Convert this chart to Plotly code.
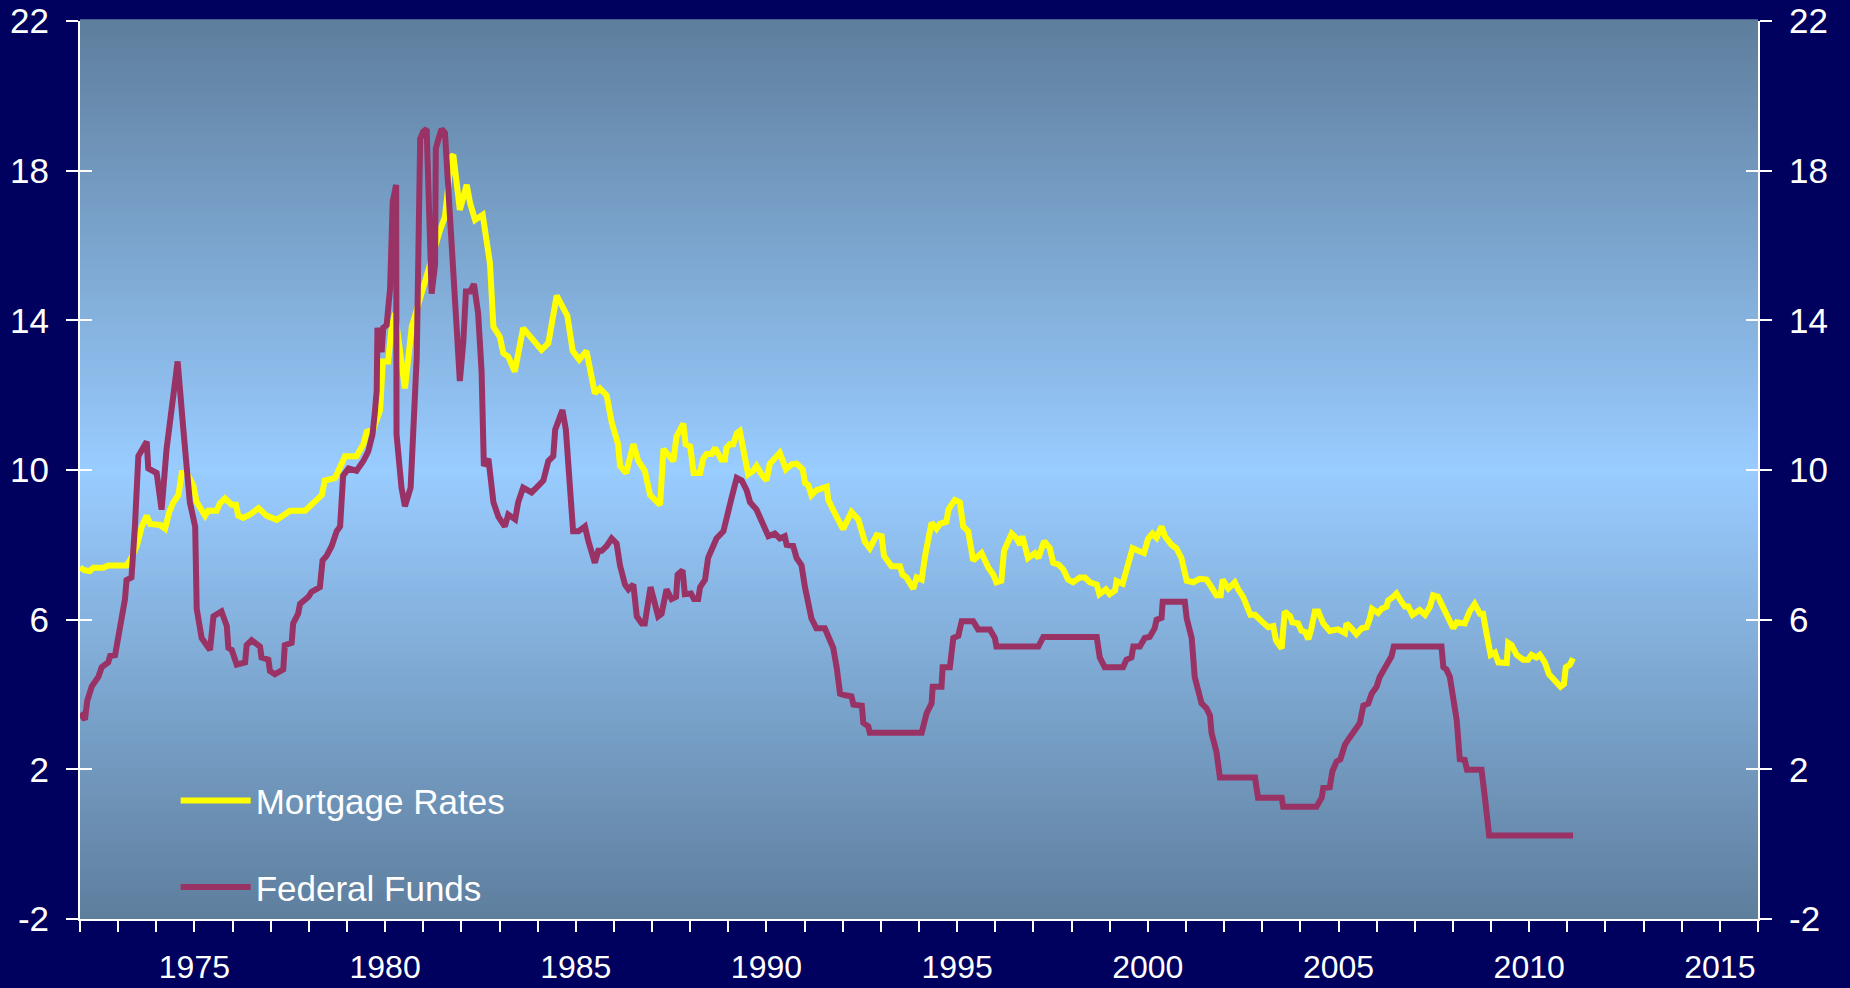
import plotly.graph_objects as go

# ---- data ----
mort_year = [1972.00, 1972.13, 1972.26, 1972.35, 1972.61, 1972.74, 1973.22, 1973.31, 1973.49, 1973.62,
             1973.75, 1973.84, 1974.10, 1974.23, 1974.34, 1974.45, 1974.58, 1974.67, 1974.80, 1974.97,
             1975.06, 1975.28, 1975.36, 1975.58, 1975.67, 1975.80, 1975.98, 1976.09, 1976.15, 1976.28,
             1976.46, 1976.68, 1976.89, 1977.16, 1977.51, 1977.90, 1978.34, 1978.42, 1978.69, 1978.82,
             1978.95, 1979.25, 1979.43, 1979.52, 1979.69, 1979.87, 1979.94, 1980.08, 1980.17, 1980.26,
             1980.52, 1980.70, 1981.00, 1981.22, 1981.44, 1981.57, 1981.74, 1981.79, 1981.96, 1982.14,
             1982.23, 1982.36, 1982.56, 1982.75, 1982.84, 1983.01, 1983.10, 1983.23, 1983.40, 1983.62,
             1983.89, 1984.10, 1984.28, 1984.37, 1984.50, 1984.78, 1984.92, 1985.09, 1985.28, 1985.50,
             1985.63, 1985.81, 1985.94, 1986.11, 1986.16, 1986.32, 1986.51, 1986.64, 1986.81, 1986.95,
             1987.21, 1987.30, 1987.43, 1987.56, 1987.64, 1987.82, 1987.88, 1988.00, 1988.09, 1988.26,
             1988.34, 1988.43, 1988.56, 1988.65, 1988.82, 1988.91, 1988.95, 1989.04, 1989.13, 1989.22,
             1989.30, 1989.44, 1989.52, 1989.65, 1989.74, 1989.87, 1990.00, 1990.09, 1990.22, 1990.35,
             1990.51, 1990.66, 1990.79, 1990.95, 1991.01, 1991.10, 1991.18, 1991.31, 1991.58, 1991.62,
             1991.84, 1992.01, 1992.23, 1992.41, 1992.58, 1992.71, 1992.89, 1993.02, 1993.08, 1993.28,
             1993.50, 1993.57, 1993.67, 1993.76, 1993.85, 1993.94, 1994.07, 1994.16, 1994.33, 1994.46,
             1994.55, 1994.72, 1994.77, 1994.94, 1995.07, 1995.16, 1995.29, 1995.42, 1995.64, 1995.82,
             1995.95, 1996.03, 1996.16, 1996.23, 1996.30, 1996.43, 1996.56, 1996.65, 1996.71, 1996.86,
             1997.04, 1997.13, 1997.28, 1997.43, 1997.52, 1997.65, 1997.78, 1997.91, 1998.04, 1998.22,
             1998.35, 1998.48, 1998.66, 1998.73, 1998.90, 1999.00, 1999.14, 1999.18, 1999.34, 1999.44,
             1999.53, 1999.60, 1999.75, 1999.90, 2000.01, 2000.12, 2000.23, 2000.36, 2000.45, 2000.62,
             2000.75, 2000.88, 2001.02, 2001.19, 2001.36, 2001.54, 2001.67, 2001.80, 2001.91, 2001.96,
             2002.11, 2002.28, 2002.37, 2002.50, 2002.69, 2002.81, 2002.98, 2003.16, 2003.29, 2003.36,
             2003.51, 2003.59, 2003.73, 2003.79, 2003.94, 2004.03, 2004.12, 2004.21, 2004.29, 2004.38,
             2004.47, 2004.60, 2004.77, 2004.99, 2005.17, 2005.21, 2005.34, 2005.47, 2005.61, 2005.74,
             2005.82, 2005.88, 2006.04, 2006.13, 2006.26, 2006.30, 2006.43, 2006.52, 2006.65, 2006.74,
             2006.83, 2006.94, 2007.13, 2007.27, 2007.40, 2007.48, 2007.61, 2007.70, 2007.83, 2007.92,
             2008.01, 2008.10, 2008.23, 2008.31, 2008.44, 2008.57, 2008.71, 2008.79, 2008.88, 2008.99,
             2009.10, 2009.19, 2009.41, 2009.45, 2009.54, 2009.62, 2009.67, 2009.84, 2009.97, 2010.06,
             2010.19, 2010.28, 2010.41, 2010.52, 2010.67, 2010.82, 2010.91, 2010.96, 2011.07, 2011.15]
mort_rate = [7.39, 7.32, 7.30, 7.39, 7.39, 7.45, 7.45, 7.58, 7.97, 8.49,
             8.78, 8.56, 8.53, 8.43, 8.88, 9.14, 9.33, 9.92, 9.92, 9.59,
             9.14, 8.78, 8.91, 8.91, 9.11, 9.24, 9.07, 9.07, 8.78, 8.72,
             8.81, 8.98, 8.78, 8.67, 8.91, 8.91, 9.33, 9.72, 9.79, 10.11,
             10.37, 10.37, 10.69, 11.02, 11.08, 11.60, 12.90, 12.90, 13.80, 14.19,
             12.18, 13.83, 14.90, 15.61, 16.41, 16.77, 18.37, 18.42, 16.95, 17.62,
             17.13, 16.68, 16.82, 15.52, 13.83, 13.56, 13.12, 13.03, 12.63, 13.79,
             13.43, 13.21, 13.39, 13.87, 14.66, 14.12, 13.18, 12.95, 13.18, 12.05,
             12.18, 11.99, 11.28, 10.69, 10.11, 9.92, 10.69, 10.24, 9.98, 9.33,
             9.07, 10.56, 10.37, 10.24, 10.89, 11.24, 10.69, 10.63, 9.92, 9.92,
             10.30, 10.43, 10.43, 10.59, 10.28, 10.28, 10.59, 10.69, 10.69, 10.98,
             11.04, 10.37, 9.89, 9.98, 10.11, 9.89, 9.72, 10.17, 10.30, 10.46,
             10.02, 10.15, 10.17, 10.02, 9.66, 9.59, 9.33, 9.46, 9.55, 9.20,
             8.75, 8.42, 8.88, 8.68, 8.08, 7.91, 8.26, 8.23, 7.71, 7.43,
             7.43, 7.20, 7.13, 6.94, 6.83, 7.13, 7.07, 7.71, 8.59, 8.43,
             8.56, 8.62, 8.94, 9.20, 9.14, 8.49, 8.36, 7.58, 7.78, 7.39,
             7.20, 7.00, 7.04, 7.84, 8.00, 8.30, 8.17, 8.00, 8.23, 7.65,
             7.78, 7.65, 8.10, 7.91, 7.52, 7.48, 7.35, 7.07, 7.00, 7.13,
             7.13, 7.00, 6.94, 6.68, 6.81, 6.68, 6.78, 7.03, 6.96, 7.32,
             7.58, 7.91, 7.84, 7.78, 8.17, 8.30, 8.19, 8.49, 8.23, 8.00,
             7.91, 7.65, 7.04, 7.00, 7.09, 7.07, 6.87, 6.65, 6.65, 7.07,
             6.83, 7.00, 6.81, 6.61, 6.13, 6.13, 5.96, 5.80, 5.83, 5.45,
             5.23, 6.22, 6.09, 5.93, 5.90, 5.70, 5.67, 5.48, 5.77, 6.22,
             6.22, 5.90, 5.70, 5.74, 5.64, 5.90, 5.77, 5.61, 5.77, 5.80,
             6.03, 6.29, 6.18, 6.29, 6.35, 6.51, 6.61, 6.70, 6.48, 6.35,
             6.35, 6.13, 6.26, 6.13, 6.35, 6.65, 6.61, 6.42, 6.22, 6.03,
             5.77, 5.93, 5.93, 5.90, 6.22, 6.42, 6.16, 6.16, 5.64, 5.06,
             5.12, 4.86, 4.84, 5.38, 5.32, 5.19, 5.06, 4.93, 4.93, 5.06,
             4.99, 5.06, 4.86, 4.54, 4.37, 4.21, 4.28, 4.73, 4.80, 4.97]

fed_year = [1972.00, 1972.13, 1972.19, 1972.31, 1972.48, 1972.57, 1972.74, 1972.79, 1972.92, 1972.98,
            1973.05, 1973.18, 1973.22, 1973.35, 1973.44, 1973.53, 1973.75, 1973.79, 1974.01, 1974.14,
            1974.27, 1974.40, 1974.56, 1974.71, 1974.88, 1975.02, 1975.06, 1975.19, 1975.41, 1975.50,
            1975.71, 1975.85, 1975.89, 1975.98, 1976.11, 1976.33, 1976.37, 1976.50, 1976.72, 1976.76,
            1976.94, 1976.98, 1977.11, 1977.33, 1977.37, 1977.55, 1977.59, 1977.72, 1977.77, 1977.99,
            1978.07, 1978.29, 1978.36, 1978.47, 1978.60, 1978.73, 1978.82, 1978.90, 1979.04, 1979.25,
            1979.43, 1979.56, 1979.67, 1979.73, 1979.78, 1979.80, 1979.91, 1979.95, 1980.04, 1980.13,
            1980.20, 1980.29, 1980.30, 1980.43, 1980.52, 1980.67, 1980.74, 1980.83, 1980.92, 1981.00,
            1981.09, 1981.13, 1981.18, 1981.22, 1981.31, 1981.33, 1981.40, 1981.48, 1981.57, 1981.70,
            1981.83, 1981.96, 1982.05, 1982.12, 1982.23, 1982.33, 1982.44, 1982.53, 1982.59, 1982.71,
            1982.84, 1982.97, 1983.14, 1983.23, 1983.41, 1983.49, 1983.62, 1983.84, 1983.97, 1984.15,
            1984.28, 1984.41, 1984.46, 1984.54, 1984.65, 1984.74, 1984.85, 1984.93, 1985.07, 1985.24,
            1985.33, 1985.42, 1985.50, 1985.59, 1985.68, 1985.81, 1985.94, 1986.07, 1986.16, 1986.29,
            1986.38, 1986.51, 1986.60, 1986.73, 1986.81, 1986.96, 1987.08, 1987.16, 1987.25, 1987.38,
            1987.51, 1987.63, 1987.67, 1987.80, 1987.86, 1988.02, 1988.10, 1988.21, 1988.26, 1988.39,
            1988.47, 1988.56, 1988.69, 1988.87, 1988.96, 1989.09, 1989.22, 1989.35, 1989.48, 1989.57,
            1989.74, 1989.87, 1990.05, 1990.22, 1990.35, 1990.48, 1990.53, 1990.70, 1990.79, 1990.92,
            1991.01, 1991.18, 1991.31, 1991.53, 1991.62, 1991.75, 1991.84, 1991.93, 1992.06, 1992.23,
            1992.28, 1992.50, 1992.54, 1992.67, 1992.71, 1994.07, 1994.20, 1994.33, 1994.36, 1994.59,
            1994.62, 1994.81, 1994.90, 1995.03, 1995.12, 1995.42, 1995.55, 1995.86, 1995.99, 1996.03,
            1997.13, 1997.26, 1998.66, 1998.74, 1998.87, 1999.35, 1999.44, 1999.57, 1999.62, 1999.79,
            1999.92, 2000.05, 2000.18, 2000.23, 2000.36, 2000.39, 2000.97, 2001.02, 2001.15, 2001.23,
            2001.41, 2001.54, 2001.63, 2001.67, 2001.80, 2001.89, 2002.81, 2002.89, 2003.51, 2003.55,
            2004.42, 2004.56, 2004.60, 2004.77, 2004.84, 2004.95, 2005.05, 2005.17, 2005.30, 2005.39,
            2005.56, 2005.65, 2005.78, 2005.87, 2006.00, 2006.08, 2006.17, 2006.30, 2006.39, 2006.45,
            2007.70, 2007.75, 2007.83, 2007.92, 2008.01, 2008.10, 2008.18, 2008.31, 2008.37, 2008.75,
            2008.84, 2008.95, 2011.15]
fed_rate = [3.50, 3.33, 3.83, 4.22, 4.47, 4.73, 4.86, 5.03, 5.05, 5.38,
            5.96, 6.55, 7.06, 7.13, 8.49, 10.37, 10.76, 10.04, 9.92, 8.94,
            10.56, 11.60, 12.90, 11.08, 9.14, 8.49, 6.29, 5.51, 5.19, 6.09,
            6.22, 5.83, 5.25, 5.19, 4.80, 4.86, 5.32, 5.45, 5.28, 4.99,
            4.93, 4.63, 4.54, 4.67, 5.32, 5.38, 5.90, 6.16, 6.42, 6.61,
            6.74, 6.87, 7.58, 7.71, 7.97, 8.36, 8.49, 9.85, 10.04, 9.98,
            10.24, 10.50, 10.95, 11.53, 12.12, 13.80, 13.15, 13.80, 13.87, 14.84,
            17.17, 17.62, 10.95, 9.53, 9.03, 9.53, 10.82, 13.02, 18.85, 19.05,
            19.11, 17.30, 14.84, 14.71, 15.49, 18.59, 18.85, 19.11, 19.01, 16.78,
            14.71, 12.38, 13.41, 14.77, 14.77, 14.97, 14.19, 12.64, 10.11, 10.30,
            9.14, 8.75, 8.49, 8.81, 8.68, 9.14, 9.53, 9.40, 9.53, 9.72,
            10.24, 10.37, 11.08, 11.34, 11.60, 11.08, 9.66, 8.36, 8.36, 8.49,
            8.10, 7.71, 7.52, 7.84, 7.84, 7.97, 8.17, 8.04, 7.45, 6.94,
            6.81, 6.94, 6.09, 5.90, 5.90, 6.87, 6.42, 6.09, 6.16, 6.81,
            6.55, 6.61, 7.20, 7.32, 6.68, 6.70, 6.55, 6.55, 6.87, 7.07,
            7.65, 7.84, 8.17, 8.36, 8.81, 9.27, 9.79, 9.72, 9.46, 9.14,
            8.94, 8.62, 8.23, 8.30, 8.17, 8.23, 8.00, 7.97, 7.65, 7.45,
            6.87, 6.03, 5.77, 5.77, 5.51, 5.25, 4.73, 4.02, 3.98, 3.95,
            3.73, 3.70, 3.24, 3.15, 2.98, 2.98, 3.50, 3.76, 4.21, 4.21,
            4.73, 4.73, 5.51, 5.57, 5.96, 5.96, 5.74, 5.74, 5.51, 5.28,
            5.28, 5.54, 5.54, 4.99, 4.73, 4.73, 4.93, 4.99, 5.28, 5.28,
            5.51, 5.54, 5.77, 6.00, 6.05, 6.48, 6.48, 6.03, 5.51, 4.47,
            3.76, 3.63, 3.44, 2.98, 2.47, 1.78, 1.78, 1.24, 1.24, 1.00,
            1.00, 1.24, 1.50, 1.52, 1.95, 2.21, 2.27, 2.66, 2.86, 2.98,
            3.24, 3.70, 3.76, 4.02, 4.21, 4.47, 4.63, 4.80, 5.02, 5.28,
            5.28, 4.73, 4.67, 4.47, 3.95, 3.31, 2.27, 2.25, 1.99, 1.99,
            1.24, 0.23, 0.23]

series_names = ["Mortgage Rates", "Federal Funds"]
x_tick_vals = [1975, 1980, 1985, 1990, 1995, 2000, 2005, 2010, 2015]
y_tick_vals = [-2, 2, 6, 10, 14, 18, 22]
y_tick_text = ["-2", "2", "6", "10", "14", "18", "22"]

# ---- styling ----
FONT = "Liberation Sans, Arial, sans-serif"
WHITE = "#FFFFFF"
NAVY = "#00005E"
LIGHT = (153, 204, 255)
DARK = (94, 126, 157)

fig = go.Figure()
# both series share the same -2..22 scale; the second is attached to the (identical) right-hand axis
fig.add_trace(go.Scatter(x=mort_year, y=mort_rate, mode="lines", name=series_names[0],
                         legendgroup="a", line=dict(color="#FFFF00", width=6)))
fig.add_trace(go.Scatter(x=fed_year, y=fed_rate, mode="lines", name=series_names[1],
                         legendgroup="b", yaxis="y2", line=dict(color="#993366", width=6)))

# vertical gradient plot background (dark top -> light centre -> dark bottom)
shapes = []
N = 300
for i in range(N):
    t = (i + 0.5) / N
    d = abs(t - 0.5) * 2
    c = tuple(round(LIGHT[k] + (DARK[k] - LIGHT[k]) * d) for k in range(3))
    shapes.append(dict(type="rect", xref="paper", yref="paper", x0=0, x1=1,
                       y0=i / N, y1=(i + 1) / N + 0.002, fillcolor="rgb(%d,%d,%d)" % c,
                       line=dict(width=0), layer="below"))

yax_common = dict(range=[-2, 22], tickmode="array", tickvals=y_tick_vals, ticktext=y_tick_text,
                  showgrid=False, zeroline=False, showline=True, linecolor=WHITE, linewidth=2,
                  tickcolor=WHITE, tickwidth=2, ticklen=12, automargin=False, mirror="ticks",
                  tickfont=dict(family=FONT, size=35, color=WHITE))

fig.update_layout(
    width=1850, height=988,
    paper_bgcolor=NAVY, plot_bgcolor="rgb(153,204,255)",
    margin=dict(l=80, r=92, t=21, b=69, autoexpand=False),
    shapes=shapes,
    showlegend=True,
    legend=dict(x=0.057, y=0.003, xanchor="left", yanchor="bottom",
                bgcolor="rgba(0,0,0,0)", font=dict(family=FONT, size=35, color=WHITE),
                traceorder="grouped", tracegroupgap=38, itemwidth=70),
    xaxis=dict(range=[1972, 2016], tickmode="array", tickvals=x_tick_vals, tickformat="d",
               showgrid=False, zeroline=False, showline=True, linecolor=WHITE, linewidth=2,
               ticks="outside", ticklen=11, tickwidth=2, tickcolor=WHITE, automargin=False,
               tickfont=dict(family=FONT, size=32, color=WHITE), ticklabelstandoff=8,
               minor=dict(dtick=1, tick0=1972, ticks="outside", ticklen=11, tickwidth=2,
                          tickcolor=WHITE, showgrid=False)),
    yaxis=dict(side="left", ticks="outside", ticklabelstandoff=10, **yax_common),
    yaxis2=dict(overlaying="y", side="right", anchor="x", ticks="inside",
                ticklabelstandoff=22, **yax_common),
)

fig.write_html("out.html", config={"displayModeBar": False},
               post_script="document.body.style.margin='0px';document.body.style.overflow='hidden';")
